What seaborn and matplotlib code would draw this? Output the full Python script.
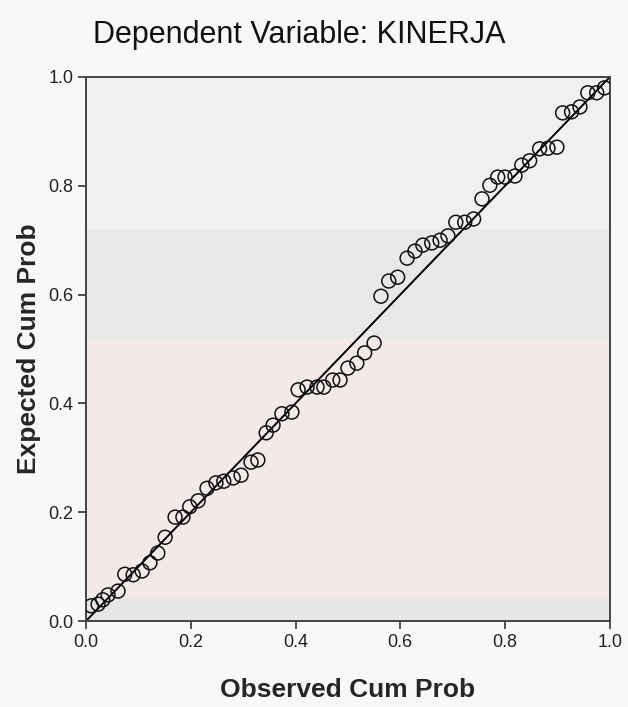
import numpy as np
import matplotlib
matplotlib.use("Agg")
import matplotlib.pyplot as plt
import seaborn as sns

# observed vs expected cumulative probabilities
observed_cum_prob = [0.010, 0.023, 0.032, 0.042, 0.061, 0.074, 0.090, 0.107, 0.122, 0.137,
                     0.151, 0.170, 0.185, 0.198, 0.214, 0.231, 0.248, 0.263, 0.281, 0.296,
                     0.315, 0.328, 0.344, 0.357, 0.374, 0.393, 0.405, 0.422, 0.441, 0.454,
                     0.471, 0.485, 0.500, 0.517, 0.532, 0.550, 0.563, 0.578, 0.595, 0.613,
                     0.628, 0.643, 0.660, 0.676, 0.691, 0.706, 0.723, 0.740, 0.756, 0.771,
                     0.786, 0.800, 0.819, 0.832, 0.847, 0.866, 0.882, 0.899, 0.910, 0.927,
                     0.943, 0.958, 0.975, 0.990]
expected_cum_prob = [0.028, 0.031, 0.039, 0.048, 0.055, 0.086, 0.085, 0.092, 0.107, 0.125,
                     0.154, 0.191, 0.191, 0.210, 0.221, 0.244, 0.254, 0.257, 0.263, 0.268,
                     0.292, 0.296, 0.346, 0.360, 0.381, 0.384, 0.425, 0.430, 0.430, 0.430,
                     0.443, 0.443, 0.465, 0.474, 0.493, 0.511, 0.597, 0.625, 0.632, 0.667,
                     0.680, 0.691, 0.695, 0.700, 0.708, 0.733, 0.733, 0.739, 0.776, 0.801,
                     0.816, 0.816, 0.818, 0.838, 0.846, 0.868, 0.869, 0.871, 0.934, 0.936,
                     0.945, 0.971, 0.971, 0.980]
ticks = [0.0, 0.2, 0.4, 0.6, 0.8, 1.0]
tick_labels = ["0.0", "0.2", "0.4", "0.6", "0.8", "1.0"]

sns.set_style("white")
plt.rcParams["font.family"] = ["Liberation Sans", "DejaVu Sans"]

fig = plt.figure(figsize=(6.28, 7.07), dpi=100)
fig.patch.set_facecolor("#f8f8f8")
ax = fig.add_axes([0.137, 0.1216, 0.834, 0.7695])
ax.set_facecolor("#f0f0f0")

# faint watermark bands behind the plot
ax.axhspan(0.0, 0.04, color="#e6e6e6", zorder=0.2, lw=0)
ax.axhspan(0.04, 0.52, color="#f3e9e9", zorder=0.2, lw=0)
ax.axhspan(0.52, 0.72, color="#e8e8e8", zorder=0.2, lw=0)

ax.plot([0, 1], [0, 1], color="black", lw=1.4, zorder=2)
sns.scatterplot(x=observed_cum_prob, y=expected_cum_prob, ax=ax, marker="o", s=100,
                facecolor="none", edgecolor="#111111", linewidth=1.1, zorder=3)

ax.set_xlim(0, 1)
ax.set_ylim(0, 1)
ax.set_xticks(ticks)
ax.set_xticklabels(tick_labels)
ax.set_yticks(ticks)
ax.set_yticklabels(tick_labels)
ax.tick_params(axis="both", direction="out", length=6, width=1.2, color="#333333",
               labelsize=13, labelcolor="#222222", pad=3, bottom=True, left=True)
for s in ax.spines.values():
    s.set_color("#444444")
    s.set_linewidth(1.4)

ax.set_xlabel("Observed Cum Prob", fontsize=19, fontweight="bold", labelpad=20)
ax.set_ylabel("Expected Cum Prob", fontsize=19, fontweight="bold", labelpad=5)
fig.text(0.476, 0.950, "Dependent Variable: KINERJA", ha="center", va="center",
         fontsize=22, color="#111111")

fig.savefig("out.png", dpi=100, facecolor=fig.get_facecolor())
